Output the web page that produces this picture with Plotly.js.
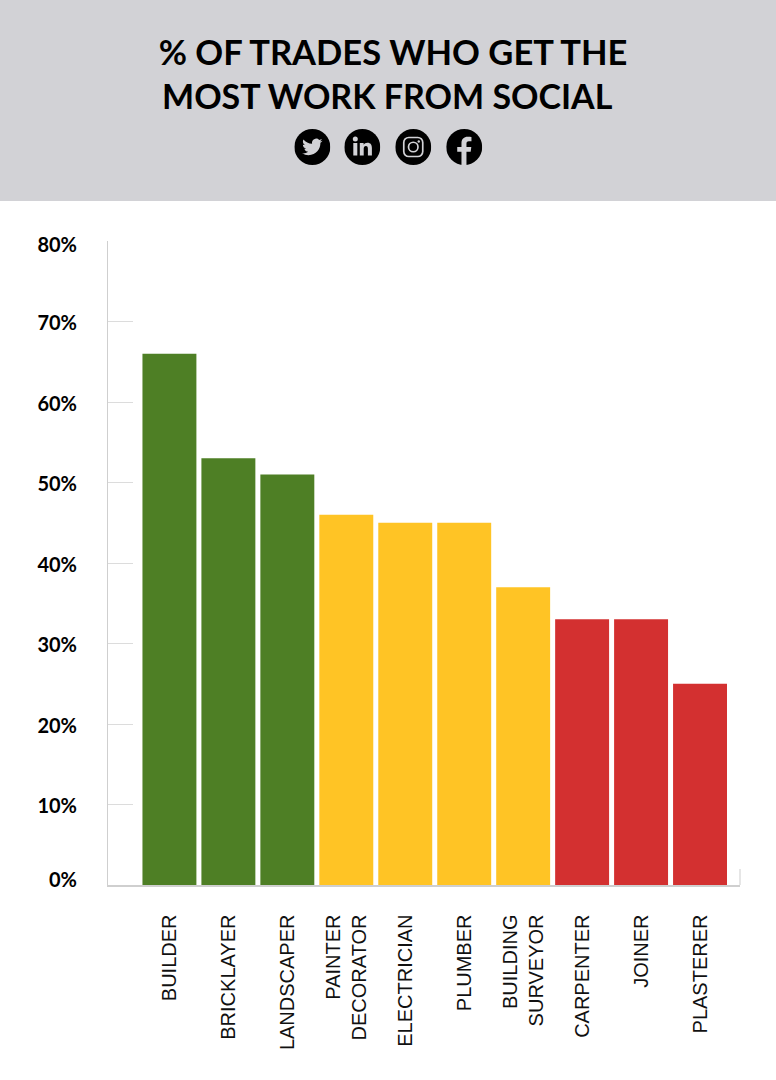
<!DOCTYPE html>
<html>
<head>
<meta charset="utf-8">
<script src="https://cdn.plot.ly/plotly-3.0.1.min.js"></script>
<style>html,body{margin:0;padding:0;background:#fff}#chart{width:776px;height:1080px}</style>
</head>
<body>
<div id="chart"></div>
<script>
const categories = ['BUILDER','BRICKLAYER','LANDSCAPER','PAINTER<br>DECORATOR','ELECTRICIAN','PLUMBER','BUILDING<br>SURVEYOR','CARPENTER','JOINER','PLASTERER'];
const shares = [66,53,51,46,45,45,37,33,33,25];
const barColors = ['#4e7f25','#4e7f25','#4e7f25','#ffc425','#ffc425','#ffc425','#ffc425','#d33030','#d33030','#d33030'];
const yTicks = [0,10,20,30,40,50,60,70,80];
const yTickLabels = ['0%','10%','20%','30%','40%','50%','60%','70%','80%'];
const yLabelPositions = [0.65,9.8,19.8,29.8,39.8,49.8,59.8,69.8,79.5];
const titleLine1 = '% OF TRADES WHO GET THE';
const titleLine2 = 'MOST WORK FROM SOCIAL';

const W = 776, H = 1080, L = 107.5, R = 740, T = 241, B = 885;
const px = x => (x - L) / (R - L);
const py = y => (B - y) / (B - T);
const grey = '#d2d2d6';

function svgUri(inner){
  const s = '<svg xmlns="http://www.w3.org/2000/svg" width="72" height="72" viewBox="0 0 72 72"><circle cx="36" cy="36" r="36" fill="#000"/>' + inner + '</svg>';
  return 'data:image/svg+xml;base64,' + btoa(s);
}
const twitter = '<g transform="translate(15.5,15.5) scale(1.7)"><path fill="'+grey+'" d="M23.953 4.57a10 10 0 01-2.825.775 4.958 4.958 0 002.163-2.723c-.951.555-2.005.959-3.127 1.184a4.92 4.92 0 00-8.384 4.482C7.69 8.095 4.067 6.13 1.64 3.162a4.822 4.822 0 00-.666 2.475c0 1.71.87 3.213 2.188 4.096a4.904 4.904 0 01-2.228-.616v.06a4.923 4.923 0 003.946 4.827 4.996 4.996 0 01-2.212.085 4.936 4.936 0 004.604 3.417 9.867 9.867 0 01-6.102 2.105c-.39 0-.779-.023-1.17-.067a13.995 13.995 0 007.557 2.209c9.053 0 13.998-7.496 13.998-13.985 0-.21 0-.42-.015-.63A9.935 9.935 0 0024 4.59z"/></g>';
const linkedin = '<g fill="'+grey+'"><circle cx="22" cy="20" r="5"/><rect x="18" y="28" width="8" height="25"/><path d="M31 28h7.6v3.5c1.4-2.5 4.2-4.2 7.6-4.2 6.6 0 9 4.2 9 10.8V53h-8V39.6c0-3.4-1-5.6-3.9-5.6-3.2 0-4.5 2.4-4.5 5.6V53H31z"/></g>';
const instagram = '<g fill="none" stroke="'+grey+'" stroke-width="3.4"><rect x="17" y="17" width="38" height="38" rx="10"/><circle cx="36" cy="36" r="9.5"/></g><circle cx="47" cy="25" r="2.4" fill="'+grey+'"/>';
const facebook = '<path fill="'+grey+'" d="M30.5 72V45.5H22V36h8.5v-7.4C30.5 20.2 35.4 15.6 43 15.6c3.6 0 6.6.3 7.5.4v8.6h-5.2c-4 0-4.8 1.9-4.8 4.7V36h9.7l-1.3 9.5h-8.4V72z"/>';

const icons = [[312,twitter],[362,linkedin],[413,instagram],[464,facebook]].map(([cx,inner]) => ({
  source: svgUri(inner), xref:'paper', yref:'paper',
  x: px(cx), y: py(147), sizex: 36/(R-L), sizey: 36/(B-T),
  xanchor:'center', yanchor:'middle', sizing:'stretch', layer:'above'
}));

const data = [
  {type:'bar', x:categories, y:shares, marker:{color:barColors}, hoverinfo:'x+y', showlegend:false},
  {type:'scatter', mode:'none', x:categories, y:shares, yaxis:'y2', hoverinfo:'skip', showlegend:false}
];

const layout = {
  width:W, height:H, autosize:false,
  margin:{l:L, r:W-R, t:T, b:H-B, pad:0},
  paper_bgcolor:'#fff', plot_bgcolor:'rgba(0,0,0,0)',
  bargap:0.085,
  title:{text:titleLine1, x:393/W, xanchor:'center', xref:'container', yref:'container', y:1-53/H, yanchor:'middle',
    font:{family:'Lato, sans-serif', size:34.5, color:'#000', weight:700}},
  annotations:[{text:titleLine2, xref:'paper', yref:'paper', x:px(387), y:py(95), xanchor:'center', yanchor:'middle', showarrow:false,
    font:{family:'Lato, sans-serif', size:34, color:'#000', weight:700}}],
  font:{family:'Lato, sans-serif', color:'#000'},
  xaxis:{type:'category', range:[-1.042,9.678], showgrid:false, zeroline:false, ticks:'',
    showline:true, linecolor:'#cfcfcf', linewidth:1.5, tickangle:-90, ticklabelstandoff:20,
    tickfont:{family:'Liberation Sans, sans-serif', size:20, color:'#111'}, automargin:false, fixedrange:true},
  yaxis:{range:[0,80], tickvals:yTicks, showticklabels:false, showgrid:false, zeroline:false,
    ticks:'inside', ticklen:25, tickcolor:'#dcdcdc', tickwidth:1,
    showline:true, linecolor:'#cfcfcf', linewidth:1.5, automargin:false, fixedrange:true},
  yaxis2:{range:[0,80], overlaying:'y', anchor:'x', side:'left', tickvals:yLabelPositions, ticktext:yTickLabels,
    showgrid:false, zeroline:false, showline:false, ticks:'', ticklabelstandoff:30,
    tickfont:{family:'Lato, sans-serif', size:20, color:'#000', weight:700}, automargin:false, fixedrange:true},
  images:icons,
  shapes:[
    {type:'rect', xref:'paper', yref:'paper', x0:px(-5), x1:px(W+5), y0:py(201), y1:py(-5), fillcolor:grey, line:{width:0}, layer:'below'},
    {type:'line', xref:'paper', yref:'paper', x0:1, x1:1, y0:0, y1:py(869), line:{color:'#d6d6d6', width:1.2}}
  ]
};
Plotly.newPlot('chart', data, layout, {staticPlot:true, displayModeBar:false});
</script>
</body>
</html>
